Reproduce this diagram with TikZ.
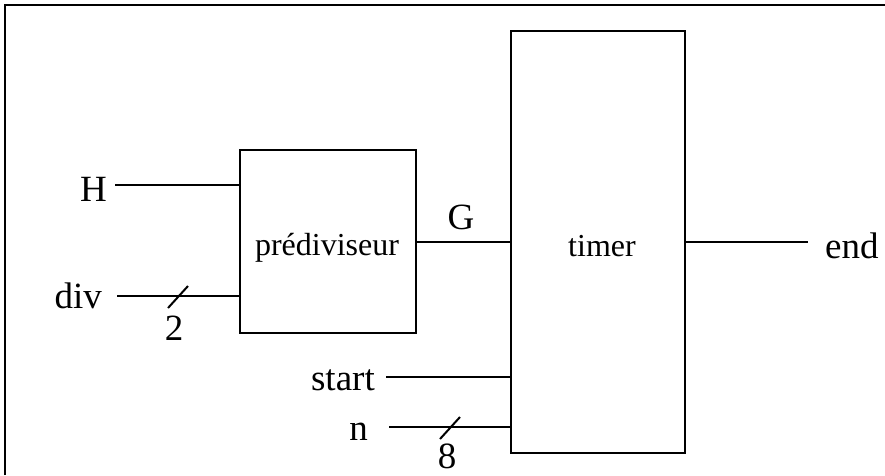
\documentclass[tikz,border=0pt]{standalone}
\usepackage{fontspec}
\setmainfont{Liberation Serif}
\begin{document}
\begin{tikzpicture}[x=1pt,y=-1pt,
  wire/.style={line width=2pt},
  box/.style={draw,line width=2pt,inner sep=0pt},
  lbl/.style={font=\fontsize{37}{40}\selectfont,inner sep=0pt},
  inlbl/.style={font=\fontsize{32}{36}\selectfont,inner sep=0pt}]
\useasboundingbox (0,0) rectangle (885,475);
\draw[line width=1.6pt] (5,475) -- (5,5) -- (885,5);
% boxes
\node[box,minimum width=176pt,minimum height=183pt] (pre) at (327.5,241.5) {};
\node[box,minimum width=174pt,minimum height=422pt] (tim) at (598,242) {};
\node[inlbl,anchor=base] (pretxt) at (327,255) {prédiviseur};
\node[inlbl,anchor=base] (timtxt) at (602,256) {timer};
% labels
\node[lbl,anchor=base east] (H) at (107,201) {H};
\node[lbl,anchor=base east] (div) at (102,308) {div};
\node[lbl,anchor=base] (G) at (461,229) {G};
\node[lbl,anchor=base west] (end) at (825,258) {end};
\node[lbl,anchor=base east] (start) at (375,390) {start};
\node[lbl,anchor=base east] (n) at (368,440) {n};
\node[lbl,anchor=base] (two) at (174,340) {2};
\node[lbl,anchor=base] (eight) at (447,468) {8};
% wire endpoints
\coordinate (Hin) at (115,185);
\coordinate (divin) at (117,296);
\coordinate (startin) at (386,377);
\coordinate (nin) at (389,427);
\coordinate (endout) at (808,242);
% wires
\draw[wire] (Hin) -- (Hin -| pre.west);
\draw[wire] (divin) -- (divin -| pre.west);
\draw[wire] (pre.east) -- (pre.east -| tim.west);
\draw[wire] (tim.east) -- (endout);
\draw[wire] (startin) -- (startin -| tim.west);
\draw[wire] (nin) -- (nin -| tim.west);
% bus slashes
\draw[wire] (168,308) -- (188,286);
\draw[wire] (440,439) -- (460,417);
\end{tikzpicture}
\end{document}
